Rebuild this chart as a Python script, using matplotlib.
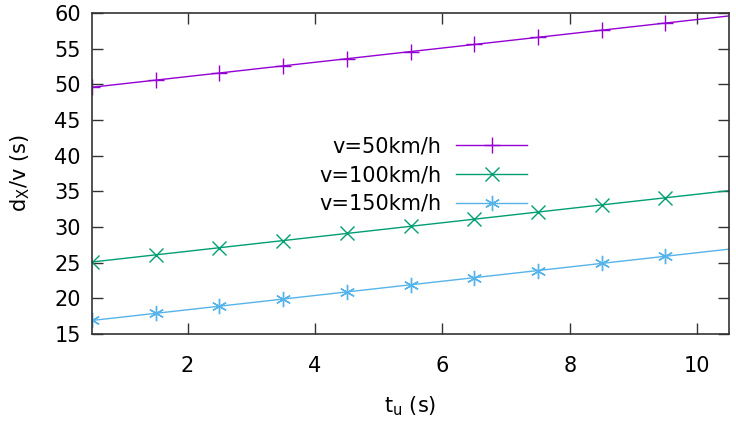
import matplotlib
matplotlib.use("Agg")
import matplotlib.pyplot as plt

plt.rcParams['font.family'] = ['DejaVu Sans']
plt.rcParams['mathtext.default'] = 'regular'

# data
t_u = [0.5, 1.5, 2.5, 3.5, 4.5, 5.5, 6.5, 7.5, 8.5, 9.5, 10.5]
v50 = [49.6, 50.6, 51.6, 52.6, 53.6, 54.6, 55.6, 56.6, 57.6, 58.6, 59.6]
v100 = [25.1, 26.1, 27.1, 28.1, 29.1, 30.1, 31.1, 32.1, 33.1, 34.1, 35.1]
v150 = [16.9, 17.9, 18.9, 19.9, 20.9, 21.9, 22.9, 23.9, 24.9, 25.9, 26.9]
labels = ['v=50km/h', 'v=100km/h', 'v=150km/h']
colors = ['#9400d3', '#009e73', '#56b4e9']
markers = ['+', 'x', (6, 2, 0)]
msizes = [11, 10, 11]

fig = plt.figure(figsize=(7.36, 4.22), dpi=100)
ax = fig.add_axes([0.125, 0.2085, 0.8655, 0.7605])

for ys, lab, col, mk, ms in zip([v50, v100, v150], labels, colors, markers, msizes):
    ax.plot(t_u, ys, color=col, lw=1.0, marker=mk, markersize=ms,
            markeredgewidth=1.0, markevery=slice(0, 10), label=lab)

ax.set_xlim(0.5, 10.5)
ax.set_ylim(15, 60)
ax.set_xticks([2, 4, 6, 8, 10])
ax.set_yticks(range(15, 61, 5))
ax.tick_params(direction='in', length=8, width=1, top=True, right=True,
               labelsize=15, colors='#333333', labelcolor='black')
ax.tick_params(axis='x', pad=16)
ax.tick_params(axis='y', pad=8)
for s in ax.spines.values():
    s.set_linewidth(1.2)
    s.set_color('#333333')

ax.set_xlabel('t$_u$ (s)', fontsize=15, labelpad=13)
ax.set_ylabel('d$_X$/v (s)', fontsize=15, labelpad=16)

leg = ax.legend(loc='center', bbox_to_anchor=(0.52, 0.495), frameon=False,
                markerfirst=False, fontsize=15, handlelength=3.4,
                labelspacing=0.42, handletextpad=0.7)

fig.savefig('out.png', dpi=100)
